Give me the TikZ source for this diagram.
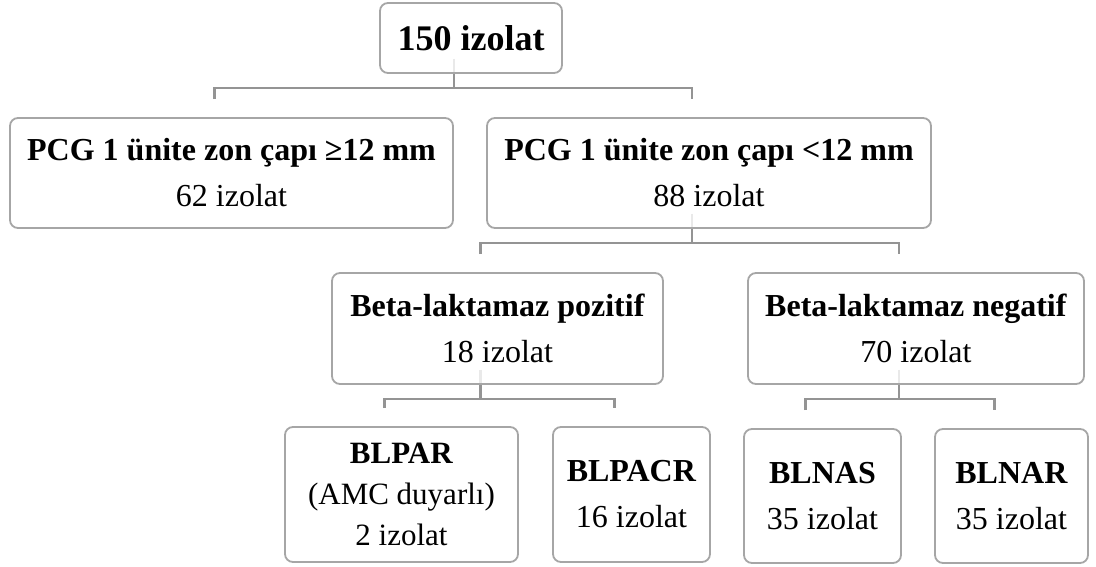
\documentclass[tikz,border=0pt]{standalone}
\usepackage{fontspec}
\setmainfont{Liberation Serif}
\usepackage{tikz}
\usetikzlibrary{positioning}
\usetikzlibrary{backgrounds}
\usetikzlibrary{calc}
\tikzstyle{box}=[draw=gray!70, line width=1.8pt, rounded corners=8pt, fill=white, fill opacity=0.8, text opacity=1, align=center, inner sep=0pt, font=\fontsize{32}{46}\selectfont]
\tikzstyle{link}=[draw=black!42, line width=2.2pt]

\begin{document}
\begin{tikzpicture}[x=1pt, y=-1pt]
\useasboundingbox (0,0) rectangle (1096,567);

%root
    \node[box, minimum width=182, minimum height=70, font=\fontsize{36}{40}\selectfont\bfseries] (top) at (471,38) {150 izolat};

%zone diameter, beta-lactamase, last level
    \foreach \pos/\name/\w/\h/\title/\count in {{(231.5,173)/pcgge/443/110/PCG 1 ünite zon çapı ≥12 mm/62 izolat}, {(709,173)/pcglt/444/110/PCG 1 ünite zon çapı <12 mm/88 izolat}, {(497.5,328.5)/poz/331/111/Beta-laktamaz pozitif/18 izolat}, {(916,328.5)/neg/336/111/Beta-laktamaz negatif/70 izolat}, {(631.5,494.5)/blpacr/157/135/BLPACR/16 izolat}, {(822.5,496)/blnas/157/134/BLNAS/35 izolat}, {(1011.5,496)/blnar/153/134/BLNAR/35 izolat}}
        \node[box, minimum width=\w, minimum height=\h] (\name) at \pos {\textbf{\title}\\\count};

    \node[box, minimum width=233, minimum height=135, font=\fontsize{31}{41}\selectfont] (blpar) at (401.5,494.5) {\textbf{BLPAR}\\(AMC duyarlı)\\2 izolat};

%brackets
    \begin{scope}[on background layer]
    \foreach \parent/\left/\right in {top/pcgge/pcglt, pcglt/poz/neg, poz/blpar/blpacr, neg/blnas/blnar} {
        \draw[link] ([shift={(-17pt,15pt)}]\parent.south) -- ([shift={(-17pt,-14pt)}]\parent.south);
        \draw[link] ([shift={(-17pt,18pt)}]\left.north) |- ([shift={(-17pt,-14pt)}]\parent.south) -| ([shift={(-17pt,18pt)}]\right.north);
    }
    \end{scope}

\end{tikzpicture}
\end{document}
